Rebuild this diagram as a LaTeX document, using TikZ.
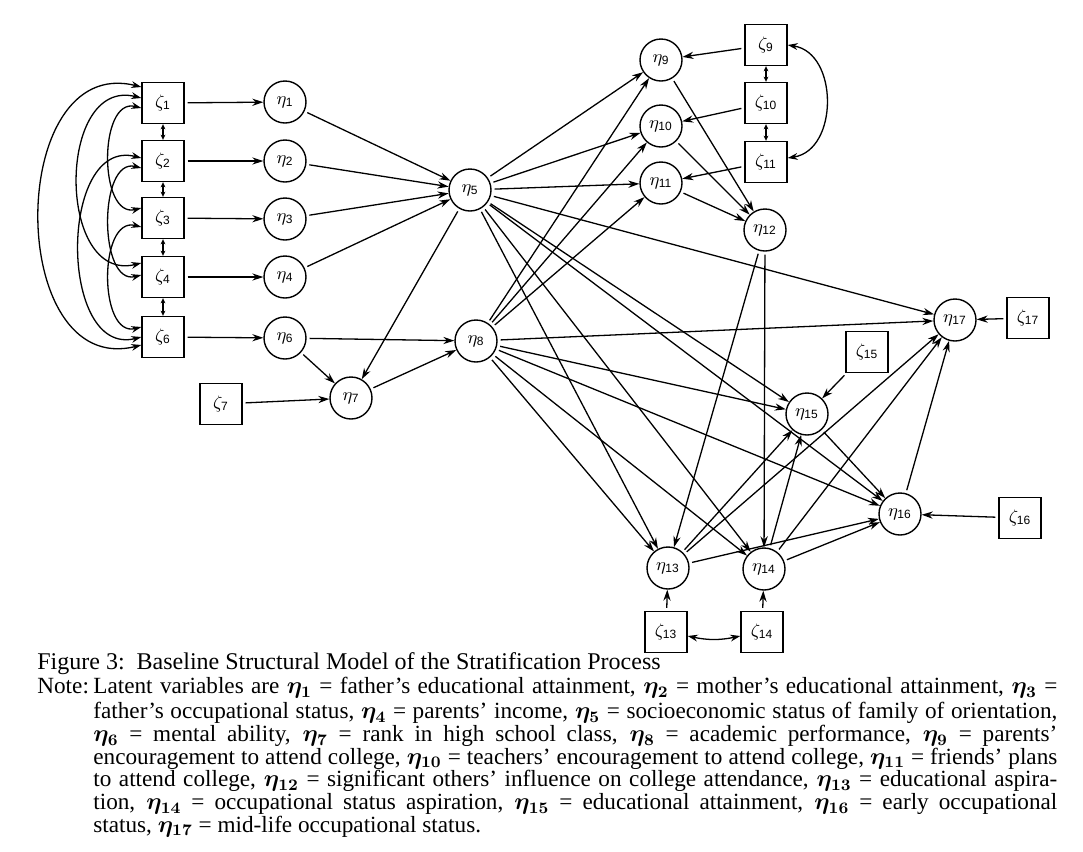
\documentclass[tikz,border=0pt]{standalone}
\usepackage{amsmath,amssymb}
\usepackage{fontspec}
\setmainfont{Liberation Serif}
\setsansfont{Liberation Sans}
\usetikzlibrary{arrows.meta, calc}

\newcommand{\etalab}[1]{$\eta_{\textsf{#1}}$}
\newcommand{\zetalab}[1]{$\zeta_{\textsf{#1}}$}
\newcommand{\etab}[1]{$\boldsymbol{\eta_{#1}}$}

\begin{document}
\begin{tikzpicture}[
  x=0.5pt, y=0.5pt,
  latent/.style={circle, draw, line width=0.7pt, minimum size=21pt, inner sep=0pt, font=\small},
  resid/.style={rectangle, draw, line width=0.7pt, minimum width=21pt, minimum height=20.5pt, inner sep=0pt, font=\small},
  arr/.style={line width=0.65pt, -{Stealth[length=5.5pt, width=3.6pt]}, shorten <=1.5pt},
  cov/.style={line width=0.65pt, {Stealth[length=5pt, width=3.4pt]}-{Stealth[length=5pt, width=3.4pt]}},
  covs/.style={line width=0.6pt, {Stealth[length=2.6pt, width=2.4pt]}-{Stealth[length=2.6pt, width=2.4pt]}},
  capt/.style={inner sep=0pt, font=\fontsize{11.6pt}{11.35pt}\selectfont},
]

% Frame
\useasboundingbox (0,0) rectangle (1083,-852);

% Exogenous disturbances (left column)
\node[resid] (z1) at (163,-103) {\zetalab{1}};
\node[resid] (z2) at (163,-161) {\zetalab{2}};
\node[resid] (z3) at (163,-218) {\zetalab{3}};
\node[resid] (z4) at (163,-277) {\zetalab{4}};
\node[resid] (z6) at (163,-337) {\zetalab{6}};
\node[resid] (z7) at (221,-404) {\zetalab{7}};

% Background latent variables
\node[latent] (e1) at (285,-102) {\etalab{1}};
\node[latent] (e2) at (285,-161) {\etalab{2}};
\node[latent] (e3) at (285,-219) {\etalab{3}};
\node[latent] (e4) at (285,-277) {\etalab{4}};
\node[latent] (e6) at (285,-338) {\etalab{6}};
\node[latent] (e7) at (351,-398) {\etalab{7}};
\node[latent] (e5) at (470,-190) {\etalab{5}};
\node[latent] (e8) at (476,-341) {\etalab{8}};

% Encouragement block
\node[latent] (e9)  at (661,-60)  {\etalab{9}};
\node[latent] (e10) at (661,-126) {\etalab{10}};
\node[latent] (e11) at (661,-183) {\etalab{11}};
\node[latent] (e12) at (765,-230) {\etalab{12}};
\node[resid] (z9)  at (766,-45)  {\zetalab{9}};
\node[resid] (z10) at (766,-103) {\zetalab{10}};
\node[resid] (z11) at (766,-162) {\zetalab{11}};

% Aspirations and attainment
\node[latent] (e13) at (668,-568) {\etalab{13}};
\node[latent] (e14) at (764,-569) {\etalab{14}};
\node[latent] (e15) at (807,-414) {\etalab{15}};
\node[latent] (e16) at (900,-514) {\etalab{16}};
\node[latent] (e17) at (955,-320) {\etalab{17}};
\node[resid] (z13) at (666,-632) {\zetalab{13}};
\node[resid] (z14) at (762,-632) {\zetalab{14}};
\node[resid] (z15) at (867,-352) {\zetalab{15}};
\node[resid] (z16) at (1020,-518) {\zetalab{16}};
\node[resid] (z17) at (1028,-318) {\zetalab{17}};

% Disturbance paths
\foreach \i in {1,2,3,4,6,7}
  \draw[arr] (z\i) -- (e\i);
\foreach \i in {9,10,11,13,14,15,16,17}
  \draw[arr] (z\i) -- (e\i);

% Adjacent covariances
\draw[covs] (z1.south) -- (z2.north);
\draw[covs] (z2.south) -- (z3.north);
\draw[covs] (z3.south) -- (z4.north);
\draw[covs] (z4.south) -- (z6.north);
\draw[covs] (z9.south) -- (z10.north);
\draw[covs] (z10.south) -- (z11.north);

% Curved covariances
\draw[cov] ([yshift=8pt]z1.west) .. controls +(-136,34) and +(-136,-34) .. ([yshift=-4pt]z6.west);
\draw[cov] ([yshift=2.5pt]z1.west) .. controls +(-85,21) and +(-85,-21) .. ([yshift=7pt]z4.west);
\draw[cov] ([yshift=-2.5pt]z1.west) .. controls +(-43,11) and +(-43,-11) .. ([yshift=5pt]z3.west);
\draw[cov] ([yshift=1.5pt]z2.west) .. controls +(-83,21) and +(-83,-21) .. (z6.west);
\draw[cov] ([yshift=-3.5pt]z2.west) .. controls +(-43,11) and +(-43,-11) .. ([yshift=1pt]z4.west);
\draw[cov] ([yshift=-4.5pt]z3.west) .. controls +(-43,11) and +(-43,-11) .. ([yshift=5pt]z6.west);
\draw[cov] (z9.east) .. controls +(51,-8) and +(51,8) .. ([yshift=2pt]z11.east);
\draw[cov] ([yshift=-2pt]z13.east) to[bend right=12] ([yshift=-2pt]z14.west);

% Structural paths
\foreach \i in {1,2,3,4}
  \draw[arr] (e\i) -- (e5);
\draw[arr] (e6) -- (e8);
\draw[arr] (e6) -- (e7);
\draw[arr] (e5) -- (e7);
\draw[arr] (e7) -- (e8);
\foreach \t in {9,10,11,13,14,15,16,17} {
  \draw[arr] (e5) -- (e\t);
  \draw[arr] (e8) -- (e\t);
}
\foreach \i in {9,10,11}
  \draw[arr] (e\i) -- (e12);
\draw[arr] (e12) -- (e13);
\draw[arr] (e12) -- (e14);
\foreach \t in {15,16,17} {
  \draw[arr] (e13) -- (e\t);
  \draw[arr] (e14) -- (e\t);
}
\draw[arr] (e15) -- (e16);
\draw[arr] (e16) -- (e17);

% Caption
\node[capt, anchor=base west, font=\fontsize{12pt}{11.35pt}\selectfont] (title) at (37,-669)
  {Figure 3:\ \ Baseline Structural Model of the Stratification Process};
\node[capt, anchor=north west] (notehead) at (37,-677) {\strut Note:};
\node[capt, anchor=north west, text width=482pt, align=justify] (note) at (93,-677)
  {\lineskiplimit=-20pt\strut Latent variables are \etab{1} = father's educational attainment, \etab{2} = mother's educational attainment, \etab{3} =\linebreak
  father's occupational status, \etab{4} = parents' income, \etab{5} = socioeconomic status of family of orientation,\linebreak
  \etab{6} = mental ability, \etab{7} = rank in high school class, \etab{8} = academic performance, \etab{9} = parents'\linebreak
  encouragement to attend college, \etab{10} = teachers' encouragement to attend college, \etab{11} = friends' plans\linebreak
  to attend college, \etab{12} = significant others' influence on college attendance, \etab{13} = educational aspira-\linebreak
  tion, \etab{14} = occupational status aspiration, \etab{15} = educational attainment, \etab{16} = early occupational\linebreak
  status, \etab{17} = mid-life occupational status.};

\end{tikzpicture}
\end{document}
